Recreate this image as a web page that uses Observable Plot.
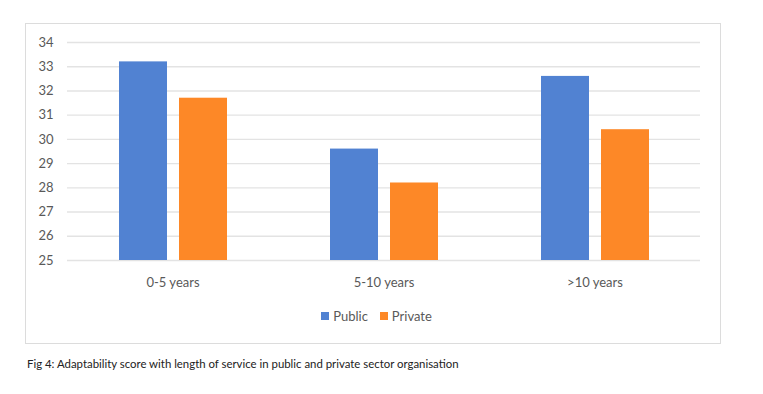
<!DOCTYPE html>
<html>
<head>
<meta charset="utf-8">
<script src="https://cdn.jsdelivr.net/npm/d3@7"></script>
<script src="https://cdn.jsdelivr.net/npm/@observablehq/plot@0.6"></script>
<style>
  html, body { margin: 0; padding: 0; background: #fff; }
  body { width: 763px; height: 394px; position: relative; font-family: Lato, "Open Sans", sans-serif; }
  #frame { position: absolute; left: 25px; top: 23px; width: 694px; height: 319px; border: 1px solid #dcdcdc; }
  #chart { position: absolute; left: 0; top: 0; }
  #legend { position: absolute; left: 0; top: 284px; width: 694px; padding-left: 7px; box-sizing: border-box; text-align: center; font-size: 13px; color: #595959; line-height: 16px; }
  #legend .item { display: inline-block; margin: 0 6px; }
  #legend .sw { display: inline-block; width: 8px; height: 8px; margin-right: 4px; vertical-align: 1px; }
  #caption { position: absolute; left: 27px; top: 357px; font-size: 11.4px; color: #222; white-space: nowrap; }
</style>
</head>
<body>
<div id="frame">
  <div id="chart"></div>
  <div id="legend"></div>
</div>
<div id="caption">Fig 4: Adaptability score with length of service in public and private sector organisation</div>
<script>
const categories = ["0-5 years", "5-10 years", ">10 years"];
const series = ["Public", "Private"];
const publicValues = [33.2, 29.6, 32.6];
const privateValues = [31.7, 28.2, 30.4];
const yTicks = [25, 26, 27, 28, 29, 30, 31, 32, 33, 34];
const colors = ["#5182d2", "#fd8827"];

const data = [];
categories.forEach((c, i) => {
  data.push({category: c, series: "Public", value: publicValues[i]});
  data.push({category: c, series: "Private", value: privateValues[i]});
});

const chart = Plot.plot({
  width: 694,
  height: 276,
  marginLeft: 41,
  marginRight: 20,
  marginTop: 18,
  marginBottom: 40,
  style: {fontFamily: "Lato, 'Open Sans', sans-serif", fontSize: "13px", color: "#595959", background: "#fff"},
  fx: {domain: categories, padding: 0, axis: "bottom", label: null, tickSize: 0, tickPadding: 17},
  x: {domain: series, axis: null, paddingInner: 0.205, paddingOuter: 0.849},
  y: {domain: [yTicks[0], yTicks[yTicks.length - 1]], ticks: yTicks, tickSize: 0, tickPadding: 14, label: null},
  color: {domain: series, range: colors},
  marks: [
    Plot.ruleY(yTicks, {stroke: "#e3e3e3", strokeWidth: 1.4}),
    Plot.barY(data, {fx: "category", x: "series", y1: yTicks[0], y2: "value", fill: "series"})
  ]
});
document.getElementById("chart").appendChild(chart);

const legend = document.getElementById("legend");
series.forEach((s, i) => {
  const item = document.createElement("span");
  item.className = "item";
  const sw = document.createElement("span");
  sw.className = "sw";
  sw.style.background = colors[i];
  item.appendChild(sw);
  item.appendChild(document.createTextNode(s));
  legend.appendChild(item);
});
</script>
</body>
</html>
